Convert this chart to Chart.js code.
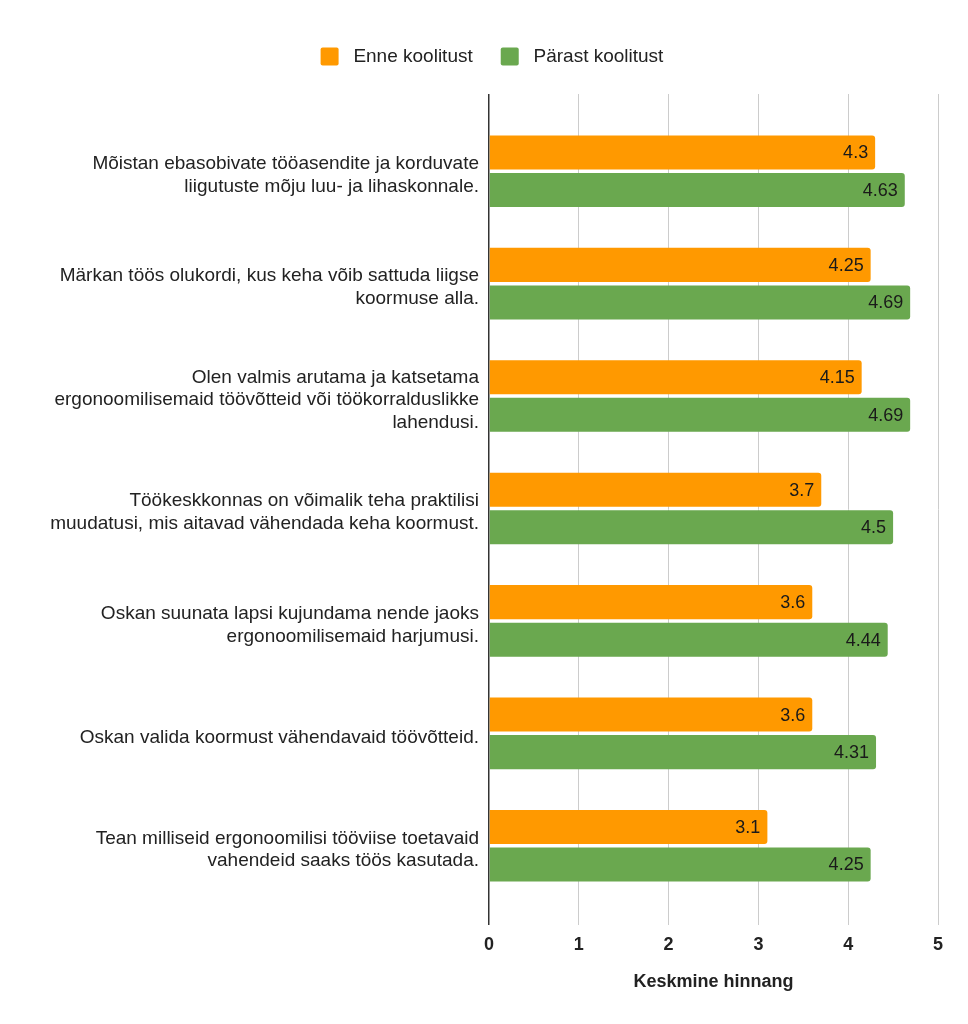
<!DOCTYPE html>
<html>
<head>
<meta charset="utf-8">
<script src="https://cdn.jsdelivr.net/npm/chart.js@4/dist/chart.umd.min.js"></script>
<style>
  html, body { margin: 0; padding: 0; background: #fff; }
  #wrap { width: 968px; height: 1024px; }
</style>
</head>
<body>
<div id="wrap"><canvas id="chart" width="968" height="1024"></canvas></div>
<script>
// Statements (category labels, already broken into lines)
const statements = [
    ['Mõistan ebasobivate tööasendite ja korduvate', 'liigutuste mõju luu- ja lihaskonnale.'],
    ['Märkan töös olukordi, kus keha võib sattuda liigse', 'koormuse alla.'],
    ['Olen valmis arutama ja katsetama', 'ergonoomilisemaid töövõtteid või töökorralduslikke', 'lahendusi.'],
    ['Töökeskkonnas on võimalik teha praktilisi', 'muudatusi, mis aitavad vähendada keha koormust.'],
    ['Oskan suunata lapsi kujundama nende jaoks', 'ergonoomilisemaid harjumusi.'],
    ['Oskan valida koormust vähendavaid töövõtteid.'],
    ['Tean milliseid ergonoomilisi tööviise toetavaid', 'vahendeid saaks töös kasutada.']
];
const seriesNames = ['Enne koolitust', 'Pärast koolitust'];
const beforeValues = [4.3, 4.25, 4.15, 3.7, 3.6, 3.6, 3.1];
const afterValues = [4.63, 4.69, 4.69, 4.5, 4.44, 4.31, 4.25];
const xTicks = [0, 1, 2, 3, 4, 5];
const xTitle = 'Keskmine hinnang';

const FONT = 'Arial, "Liberation Sans", sans-serif';

/**
 * Value labels drawn inside the end of each bar
 */
const valueLabels = {
    id: 'valueLabels',
    afterDatasetsDraw(chart) {
        const ctx = chart.ctx;
        ctx.save();
        ctx.font = '18px ' + FONT;
        ctx.fillStyle = '#1a1a1a';
        ctx.textAlign = 'right';
        ctx.textBaseline = 'middle';
        chart.data.datasets.forEach((ds, di) => {
            chart.getDatasetMeta(di).data.forEach((bar, i) => {
                ctx.fillText(String(ds.data[i].x), bar.x - 7, bar.y + 1);
            });
        });
        ctx.restore();
    }
};

/**
 * Nudge the legend a bit right, it sits slightly off-centre in the original
 */
const legendShift = {
    id: 'legendShift',
    afterLayout(chart) {
        if (chart.legend) {
            chart.legend.left += 23;
            chart.legend.right += 23;
        }
    }
};

function toPoints(values) {
    return values.map((v, i) => ({ x: v, y: i }));
}

const ctx = document.getElementById('chart').getContext('2d');
new Chart(ctx, {
    type: 'bar',
    data: {
        datasets: [{
            label: seriesNames[0],
            data: toPoints(beforeValues),
            backgroundColor: '#ff9900',
            borderRadius: 3,
            borderSkipped: 'start'
        }, {
            label: seriesNames[1],
            data: toPoints(afterValues),
            backgroundColor: '#6aa84f',
            borderRadius: 3,
            borderSkipped: 'start'
        }]
    },
    options: {
        indexAxis: 'y',
        responsive: false,
        animation: false,
        categoryPercentage: 0.668,
        barPercentage: 0.907,
        layout: {
            padding: { top: 19, right: 30, left: 0, bottom: 0 }
        },
        plugins: {
            legend: {
                position: 'top',
                labels: {
                    boxWidth: 18,
                    boxHeight: 18,
                    useBorderRadius: true,
                    borderRadius: 2,
                    padding: 28,
                    color: '#222',
                    font: { family: FONT, size: 19 },
                    generateLabels(chart) {
                        // a little more room between the swatch and its text
                        const items = Chart.defaults.plugins.legend.labels.generateLabels(chart);
                        items.forEach(it => { it.text = ' ' + it.text; });
                        return items;
                    }
                }
            },
            tooltip: { enabled: false }
        },
        scales: {
            x: {
                type: 'linear',
                min: 0,
                max: 5,
                afterBuildTicks(scale) {
                    scale.ticks = xTicks.map(v => ({ value: v }));
                },
                afterFit(scale) {
                    scale.height = 99;
                },
                grid: {
                    drawTicks: false,
                    color: c => (c.tick && c.tick.value === 0) ? '#333' : '#cccccc',
                    lineWidth: c => (c.tick && c.tick.value === 0) ? 1.5 : 1
                },
                border: { display: false },
                ticks: {
                    padding: 9,
                    color: '#222',
                    font: { family: FONT, size: 18, weight: 'bold' }
                },
                title: {
                    display: true,
                    text: xTitle,
                    color: '#222',
                    padding: { top: 4, bottom: 31 },
                    font: { family: FONT, size: 18, weight: 'bold' }
                }
            },
            // empty spacer between legend and plot
            xTop: {
                type: 'linear',
                position: 'top',
                min: 0,
                max: 5,
                grid: { display: false, drawTicks: false },
                border: { display: false },
                ticks: { display: false },
                afterFit(scale) {
                    scale.height = 18;
                }
            },
            y: {
                type: 'linear',
                reverse: true,
                offset: false,
                min: -0.687,
                max: 6.705,
                afterBuildTicks(scale) {
                    scale.ticks = statements.map((_, i) => ({ value: i }));
                },
                afterFit(scale) {
                    scale.width = 489;
                },
                grid: { display: false, drawTicks: false },
                border: { display: false },
                ticks: {
                    autoSkip: false,
                    padding: 10,
                    labelOffset: 4,
                    color: '#222',
                    font: { family: FONT, size: 19, lineHeight: 1.2 },
                    callback: (v) => statements[v]
                }
            }
        }
    },
    plugins: [valueLabels, legendShift]
});
</script>
</body>
</html>
